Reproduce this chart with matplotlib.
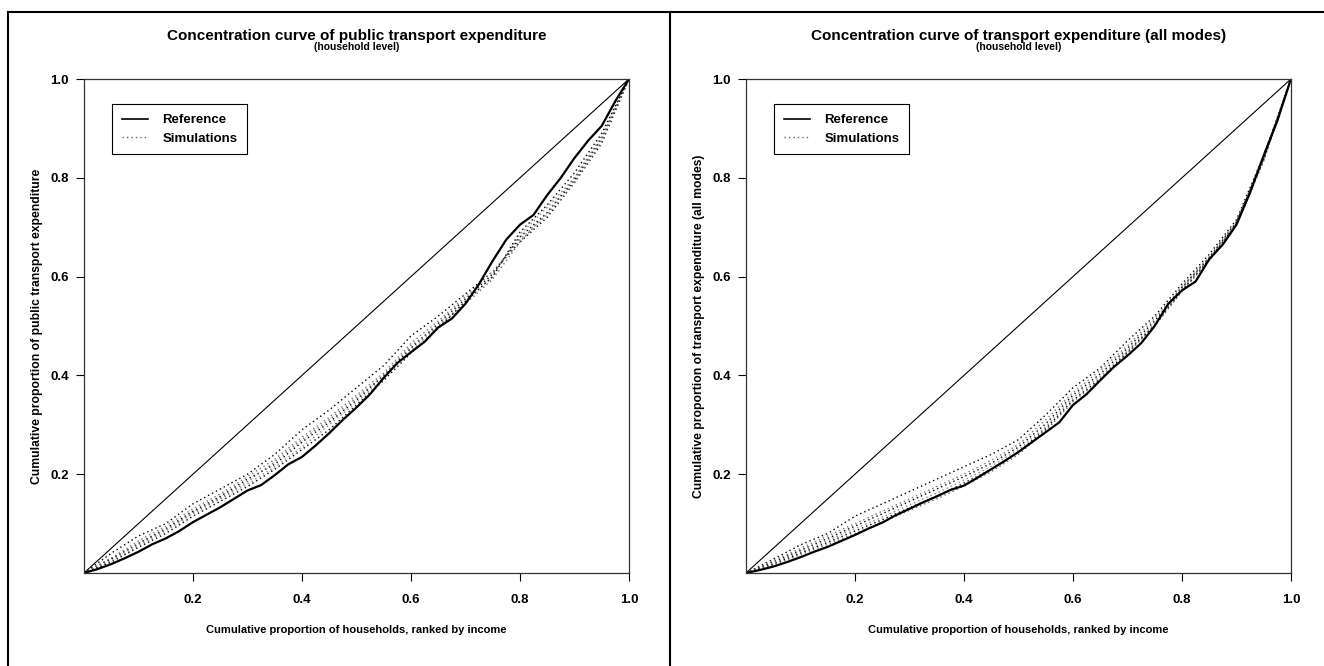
import numpy as np
import matplotlib
matplotlib.use("Agg")
import matplotlib.pyplot as plt
from matplotlib.lines import Line2D

plt.rcParams["font.family"] = ["Liberation Sans", "DejaVu Sans"]
plt.rcParams["font.weight"] = "bold"

# x grids
X_REF = [i * 0.025 for i in range(41)]
X_SIM = [i * 0.05 for i in range(21)]

# left panel: public transport expenditure
PUBLIC_REF = [0, 0.008, 0.018, 0.03, 0.043, 0.058, 0.07, 0.085, 0.103, 0.118,
              0.133, 0.15, 0.167, 0.178, 0.198, 0.22, 0.235, 0.258, 0.283, 0.31,
              0.335, 0.362, 0.395, 0.425, 0.447, 0.468, 0.497, 0.515, 0.545, 0.585,
              0.632, 0.675, 0.705, 0.725, 0.765, 0.8, 0.84, 0.875, 0.905, 0.955, 1.0]
PUBLIC_SIMS = [
    [0, 0.04, 0.075, 0.1, 0.14, 0.17, 0.2, 0.24, 0.29, 0.33, 0.375, 0.42, 0.48,
     0.52, 0.565, 0.61, 0.67, 0.72, 0.79, 0.87, 1.0],
    [0, 0.03, 0.065, 0.095, 0.13, 0.16, 0.195, 0.23, 0.275, 0.315, 0.36, 0.405,
     0.465, 0.51, 0.56, 0.61, 0.675, 0.725, 0.79, 0.875, 1.0],
    [0, 0.028, 0.06, 0.09, 0.125, 0.155, 0.19, 0.22, 0.265, 0.305, 0.35, 0.4,
     0.455, 0.505, 0.555, 0.605, 0.68, 0.73, 0.795, 0.88, 1.0],
    [0, 0.025, 0.055, 0.085, 0.12, 0.15, 0.18, 0.215, 0.255, 0.3, 0.345, 0.395,
     0.45, 0.5, 0.55, 0.6, 0.685, 0.74, 0.8, 0.885, 1.0],
    [0, 0.022, 0.052, 0.08, 0.115, 0.145, 0.175, 0.21, 0.25, 0.29, 0.34, 0.39,
     0.445, 0.495, 0.55, 0.6, 0.69, 0.745, 0.81, 0.89, 1.0],
    [0, 0.03, 0.058, 0.088, 0.122, 0.152, 0.185, 0.225, 0.27, 0.31, 0.355, 0.4,
     0.46, 0.5, 0.545, 0.595, 0.67, 0.73, 0.8, 0.88, 1.0],
]

# right panel: transport expenditure, all modes
ALL_REF = [0, 0.006, 0.013, 0.022, 0.032, 0.043, 0.053, 0.065, 0.077, 0.09,
           0.102, 0.117, 0.13, 0.143, 0.155, 0.168, 0.177, 0.193, 0.21, 0.227,
           0.245, 0.265, 0.285, 0.305, 0.34, 0.362, 0.39, 0.417, 0.44, 0.465,
           0.5, 0.545, 0.572, 0.59, 0.635, 0.665, 0.705, 0.77, 0.845, 0.915, 1.0]
ALL_SIMS = [
    [0, 0.028, 0.057, 0.08, 0.115, 0.14, 0.165, 0.19, 0.215, 0.24, 0.27, 0.32,
     0.375, 0.415, 0.47, 0.52, 0.585, 0.645, 0.715, 0.845, 1.0],
    [0, 0.025, 0.05, 0.075, 0.1, 0.125, 0.15, 0.175, 0.2, 0.228, 0.26, 0.31,
     0.365, 0.41, 0.46, 0.515, 0.58, 0.64, 0.712, 0.842, 1.0],
    [0, 0.022, 0.046, 0.07, 0.095, 0.12, 0.145, 0.17, 0.195, 0.222, 0.255, 0.302,
     0.36, 0.403, 0.455, 0.51, 0.578, 0.638, 0.71, 0.84, 1.0],
    [0, 0.02, 0.043, 0.066, 0.09, 0.113, 0.138, 0.162, 0.188, 0.216, 0.25, 0.296,
     0.355, 0.398, 0.45, 0.505, 0.575, 0.636, 0.708, 0.838, 1.0],
    [0, 0.018, 0.04, 0.062, 0.085, 0.108, 0.132, 0.156, 0.182, 0.21, 0.245, 0.292,
     0.35, 0.393, 0.447, 0.502, 0.572, 0.634, 0.706, 0.836, 1.0],
    [0, 0.016, 0.037, 0.058, 0.08, 0.103, 0.127, 0.15, 0.176, 0.205, 0.24, 0.288,
     0.347, 0.39, 0.445, 0.5, 0.57, 0.632, 0.704, 0.834, 1.0],
]

SIM_COLORS = ["black", "#777777", "black", "#888888", "black", "#666666"]
TICKS = [0.2, 0.4, 0.6, 0.8, 1.0]


def draw_panel(ax, ref, sims, title, ylabel):
    ax.plot([0, 1], [0, 1], color="black", lw=0.8)
    for sim, col in zip(sims, SIM_COLORS):
        ax.plot(X_SIM, sim, color=col, lw=1.0, linestyle=(0, (1, 2.2)))
    ax.plot(X_REF, ref, color="black", lw=1.6)

    ax.set_xlim(0, 1)
    ax.set_ylim(0, 1)
    ax.set_xticks(TICKS)
    ax.set_yticks(TICKS)
    ax.set_xticklabels([f"{t:.1f}" for t in TICKS], fontsize=9.5, fontweight="bold")
    ax.set_yticklabels([f"{t:.1f}" for t in TICKS], fontsize=9.5, fontweight="bold")
    ax.tick_params(axis="x", length=6, width=0.8, pad=9)
    ax.tick_params(axis="y", length=6, width=0.8, pad=5)
    for sp in ax.spines.values():
        sp.set_color("#333333")
        sp.set_linewidth(0.9)

    ax.set_xlabel("Cumulative proportion of households, ranked by income",
                  fontsize=8, fontweight="bold", labelpad=14)
    ax.set_ylabel(ylabel, fontsize=8.7, fontweight="bold", labelpad=5)
    ax.text(0.5, 1.079, title, transform=ax.transAxes, ha="center",
            va="baseline", fontsize=11, fontweight="bold")
    ax.text(0.5, 1.058, "(household level)", transform=ax.transAxes, ha="center",
            va="baseline", fontsize=7.5, fontweight="bold")

    handles = [Line2D([], [], color="black", lw=1.2),
               Line2D([], [], color="#666666", lw=1.0, linestyle=(0, (1, 2.2)))]
    leg = ax.legend(handles, ["Reference", "Simulations"], loc="upper left",
                    bbox_to_anchor=(0.051, 0.949), borderaxespad=0,
                    fancybox=False, edgecolor="black", framealpha=1,
                    prop={"size": 9.5, "weight": "bold"}, handlelength=2.0,
                    handletextpad=1.1, borderpad=0.75, labelspacing=0.45)
    leg.get_frame().set_linewidth(0.8)


def main():
    fig = plt.figure(figsize=(13.24, 6.66), dpi=100)
    ax1 = fig.add_axes([0.0634, 0.1396, 0.4116, 0.7417])
    ax2 = fig.add_axes([0.5634, 0.1396, 0.4116, 0.7417])

    draw_panel(ax1, PUBLIC_REF, PUBLIC_SIMS,
               "Concentration curve of public transport expenditure",
               "Cumulative proportion of public transport expenditure")
    draw_panel(ax2, ALL_REF, ALL_SIMS,
               "Concentration curve of transport expenditure (all modes)",
               "Cumulative proportion of transport expenditure (all modes)")

    # outer frame lines
    top = 1 - 12 / 666
    fig.add_artist(Line2D([0.006, 1.0], [top, top], color="black", lw=1.5))
    fig.add_artist(Line2D([0.006, 0.006], [0, top], color="black", lw=1.5))
    fig.add_artist(Line2D([0.506, 0.506], [0, top], color="black", lw=1.5))

    fig.savefig("out.png", dpi=100)
    plt.close(fig)


if __name__ == "__main__":
    main()
